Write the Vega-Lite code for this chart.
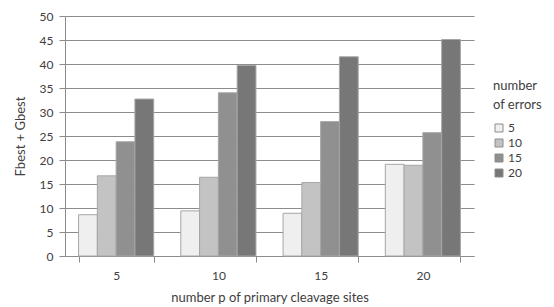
{
  "$schema": "https://vega.github.io/schema/vega-lite/v6.json",
  "width": 409,
  "height": 240,
  "autosize": "none",
  "padding": {"left": 65, "top": 16, "right": 80, "bottom": 51},
  "background": "white",
  "config": {
    "font": "Lato",
    "view": {"stroke": null},
    "axis": {"labelColor": "#404040", "titleColor": "#404040", "labelFont": "Lato", "titleFont": "Lato", "titleFontWeight": "normal"}
  },
  "data": {
    "values": [
      {"p": "5", "errors": "5", "value": 8.6},
      {"p": "5", "errors": "10", "value": 16.7},
      {"p": "5", "errors": "15", "value": 23.8},
      {"p": "5", "errors": "20", "value": 32.7},
      {"p": "10", "errors": "5", "value": 9.4},
      {"p": "10", "errors": "10", "value": 16.4},
      {"p": "10", "errors": "15", "value": 34.0},
      {"p": "10", "errors": "20", "value": 39.7},
      {"p": "15", "errors": "5", "value": 8.9},
      {"p": "15", "errors": "10", "value": 15.3},
      {"p": "15", "errors": "15", "value": 28.0},
      {"p": "15", "errors": "20", "value": 41.5},
      {"p": "20", "errors": "5", "value": 19.1},
      {"p": "20", "errors": "10", "value": 18.9},
      {"p": "20", "errors": "15", "value": 25.7},
      {"p": "20", "errors": "20", "value": 45.1}
    ]
  },
  "mark": {"type": "bar", "stroke": "#a6a6a6", "strokeWidth": 1},
  "encoding": {
    "x": {
      "field": "p", "type": "nominal", "sort": ["5", "10", "15", "20"],
      "scale": {"paddingInner": 0.265, "paddingOuter": 0.1325},
      "axis": {
        "title": "number p of  primary cleavage sites",
        "labelAngle": 0, "labelFontSize": 12, "titleFontSize": 13,
        "labelPadding": 8, "titlePadding": 10,
        "tickBand": "extent", "tickSize": 6, "tickColor": "#8c8c8c", "domainColor": "#8c8c8c",
        "grid": false
      }
    },
    "xOffset": {"field": "errors", "type": "nominal", "sort": ["5", "10", "15", "20"], "scale": {"paddingInner": 0, "paddingOuter": 0}},
    "y": {
      "field": "value", "type": "quantitative",
      "scale": {"domain": [0, 50]},
      "axis": {
        "title": "Fbest + Gbest",
        "values": [0, 5, 10, 15, 20, 25, 30, 35, 40, 45, 50],
        "labelFontSize": 12, "titleFontSize": 13, "labelPadding": 6, "titlePadding": 12,
        "tickSize": 6, "tickColor": "#8c8c8c", "domainColor": "#8c8c8c",
        "grid": true, "gridColor": "#8c8c8c", "gridWidth": 1
      }
    },
    "fill": {
      "field": "errors", "type": "nominal", "sort": ["5", "10", "15", "20"],
      "scale": {"domain": ["5", "10", "15", "20"], "range": ["#efefef", "#c3c3c3", "#909090", "#777777"]},
      "legend": {
        "title": ["number", "of  errors"],
        "orient": "none", "legendX": 428, "legendY": 64,
        "titleFontSize": 13, "titleFontWeight": "normal", "titleColor": "#404040", "titleFont": "Lato",
        "titlePadding": 10, "titleLineHeight": 19,
        "labelFontSize": 12, "labelColor": "#404040", "labelFont": "Lato",
        "symbolType": "square", "symbolSize": 64, "symbolStrokeColor": "#8c8c8c", "symbolStrokeWidth": 1,
        "rowPadding": 3, "labelOffset": 3
      }
    }
  }
}
